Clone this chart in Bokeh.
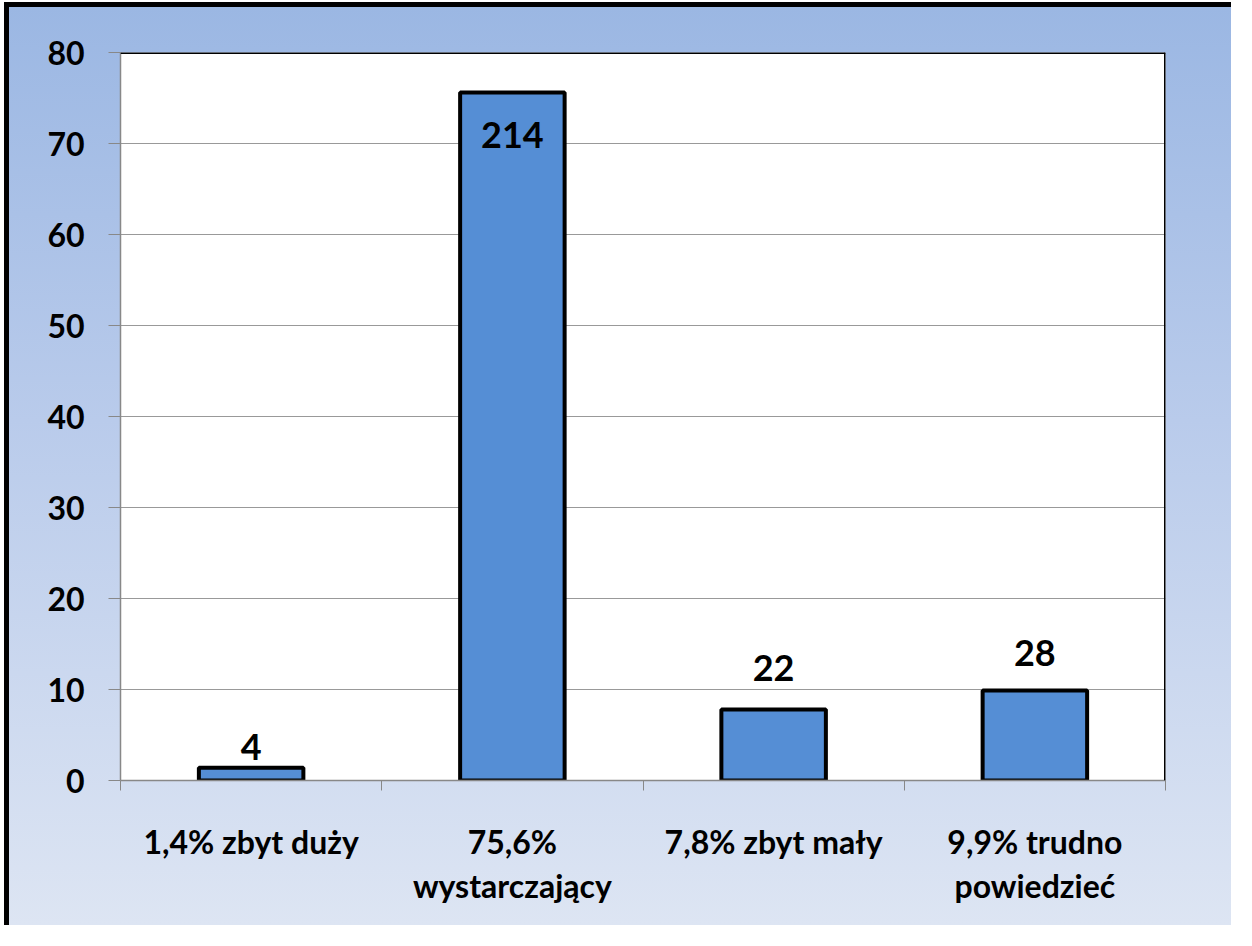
from bokeh.plotting import figure
from bokeh.models import Range1d, FixedTicker, Span, ColumnDataSource, LinearAxis, Grid
from bokeh.core.properties import value
from bokeh.embed import file_html
from bokeh.resources import INLINE

# ---- data ----
categories = ["1,4% zbyt duży", "75,6%\nwystarczający", "7,8% zbyt mały", "9,9% trudno\npowiedzieć"]
percents = [1.4, 75.6, 7.8, 9.9]
counts = ["4", "214", "22", "28"]
y_ticks = [0, 10, 20, 30, 40, 50, 60, 70, 80]

FONT_NAME = "Lato"
xs = [i + 0.5 for i in range(len(categories))]

p = figure(width=1227, height=923, output_backend="svg", toolbar_location=None,
           x_range=Range1d(0, len(categories)), y_range=Range1d(0, 80),
           x_axis_type=None, y_axis_type=None)
p.min_border_left = 111
p.min_border_top = 45
p.min_border_right = 71
p.min_border_bottom = 150
p.background_fill_color = "white"
p.border_fill_color = None
p.outline_line_color = None
p.styles = {
    "background": "linear-gradient(to bottom, #9bb7e3 0%, #b9cbeb 45%, #dde5f3 100%)",
    "border-left": "5px solid black",
    "border-top": "5px solid black",
    "margin-left": "4px",
    "margin-top": "2px",
}

# y axis
yax = LinearAxis(ticker=FixedTicker(ticks=y_ticks, minor_ticks=[]))
yax.axis_line_color = "#888888"
yax.axis_line_width = 1.5
yax.major_tick_line_color = "#888888"
yax.major_tick_out = 12
yax.major_tick_in = 0
yax.major_label_standoff = 24
yax.major_label_text_font = FONT_NAME
yax.major_label_text_font_style = "bold"
yax.major_label_text_font_size = "32px"
yax.major_label_text_color = "black"
p.add_layout(yax, "left")

# x axis: labels at centres, ticks at boundaries (minor)
xax = LinearAxis(ticker=FixedTicker(ticks=xs, minor_ticks=list(range(len(categories) + 1))))
xax.major_label_overrides = {x: c for x, c in zip(xs, categories)}
xax.axis_line_color = "#888888"
xax.axis_line_width = 1.5
xax.major_tick_line_color = None
xax.major_tick_out = 0
xax.major_tick_in = 0
xax.minor_tick_line_color = "#888888"
xax.minor_tick_out = 10
xax.minor_tick_in = 0
xax.major_label_standoff = 31
xax.major_label_text_font = FONT_NAME
xax.major_label_text_font_style = "bold"
xax.major_label_text_font_size = "32px"
xax.major_label_text_color = "black"
xax.major_label_text_line_height = 1.15
p.add_layout(xax, "below")

g = Grid(dimension=1, ticker=FixedTicker(ticks=y_ticks[1:-1]))
g.grid_line_color = "#999999"
g.grid_line_width = 1
p.add_layout(g)

# frame top & right black
p.add_layout(Span(location=80, dimension="width", line_color="black", line_width=3))
p.add_layout(Span(location=len(categories), dimension="height", line_color="black", line_width=3))

src = ColumnDataSource(dict(x=xs, top=percents, label=counts))
p.vbar(x="x", top="top", width=0.4, source=src, fill_color="#558ed5",
       line_color="black", line_width=4)

# value labels (manually placed in original)
label_offsets = [-8, 29, -29, -24]
for x, v, c, off in zip(xs, percents, counts, label_offsets):
    p.text(x=[x], y=[v], text=[c], text_align="center",
           text_baseline="top" if off > 0 else "bottom", y_offset=off,
           text_font=value(FONT_NAME), text_font_style="bold", text_font_size="36px",
           text_color="black")

open("out.html", "w").write(file_html(p, INLINE))
